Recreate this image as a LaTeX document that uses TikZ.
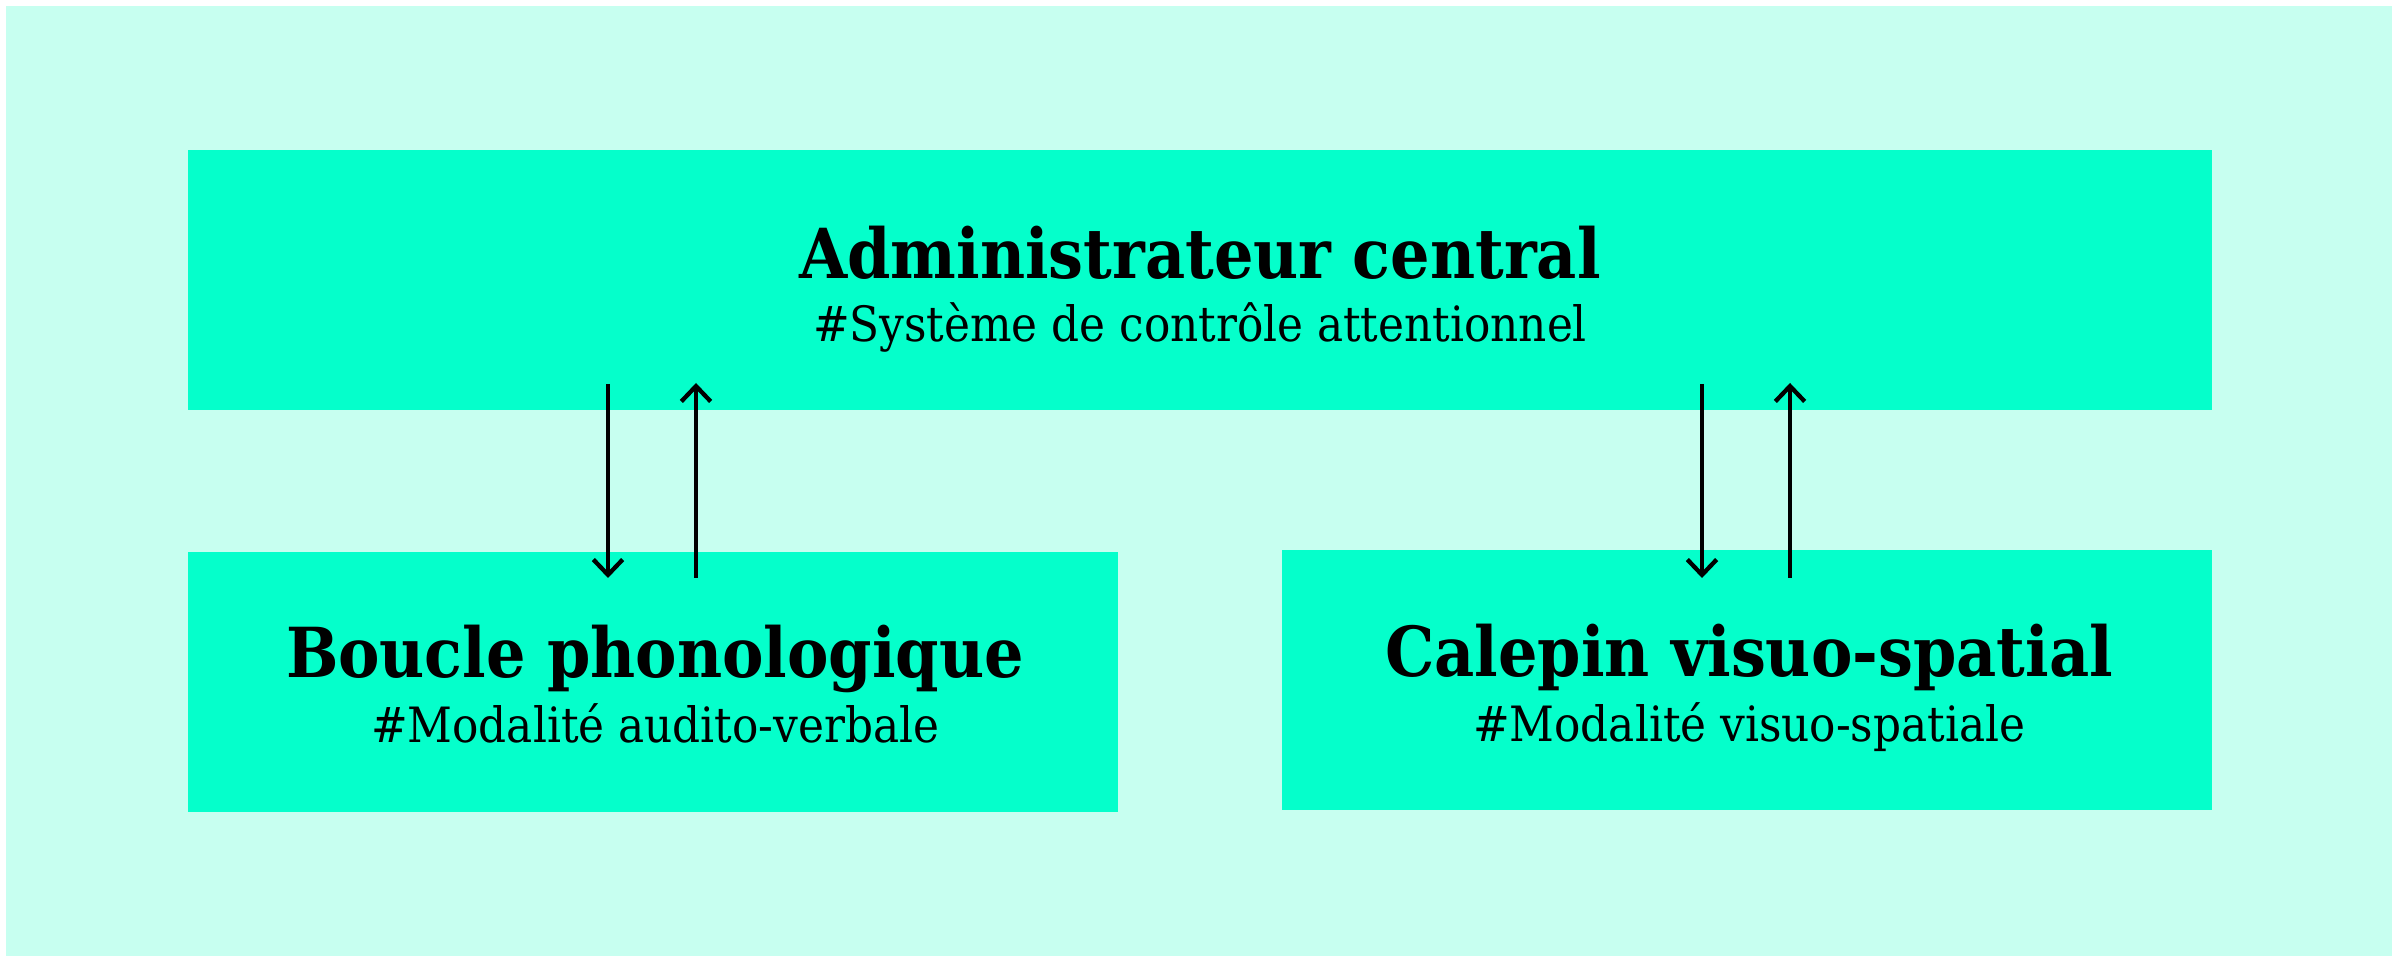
\documentclass[tikz,border=0pt]{standalone}
\usepackage{fontspec}
\usetikzlibrary{arrows.meta}
\newfontfamily\ttlfont{DejaVu Serif Condensed Bold}
\newfontfamily\subfont{DejaVu Serif Condensed}
\definecolor{bgmint}{RGB}{199,255,240}
\definecolor{boxmint}{RGB}{5,255,203}
\tikzset{
  box/.style={fill=boxmint, draw=none, inner sep=0pt},
  ttl/.style={anchor=base, inner sep=0pt, font=\ttlfont\fontsize{20.7}{24}\selectfont, text=black},
  sub/.style={anchor=base, inner sep=0pt, font=\subfont\fontsize{14.6}{17}\selectfont, text=black},
  link/.style={line width=1.3pt, -{Straight Barb[length=4.6pt,width=8.8pt]}}
}
\begin{document}
\begin{tikzpicture}[x=0.3pt, y=-0.3pt]
\useasboundingbox (0,0) rectangle (2398,962);
\fill[white] (0,0) rectangle (2398,962);
\fill[bgmint] (6,6) rectangle (2392,956);
\node[box, minimum width=2024*0.3pt, minimum height=260*0.3pt] (top) at (1200,280) {};
\node[box, minimum width=930*0.3pt, minimum height=260*0.3pt] (left) at (653,682) {};
\node[box, minimum width=930*0.3pt, minimum height=260*0.3pt] (right) at (1747,680) {};
\node[ttl] (toptitle) at (1200,279) {Administrateur central};
\node[sub] (topsub) at (1200,342) {\#Système de contrôle attentionnel};
\node[ttl] (lefttitle) at (655,678) {Boucle phonologique};
\node[sub] (leftsub) at (655,743) {\#Modalité audito-verbale};
\node[ttl] (righttitle) at (1749,677) {Calepin visuo-spatial};
\node[sub] (rightsub) at (1749,742) {\#Modalité visuo-spatiale};
\coordinate (a1s) at (608,384);
\coordinate (a1e) at (608,578);
\coordinate (a2s) at (696,578);
\coordinate (a2e) at (696,383);
\coordinate (a3s) at (1702,384);
\coordinate (a3e) at (1702,578);
\coordinate (a4s) at (1790,578);
\coordinate (a4e) at (1790,383);
\draw[link] (a1s) -- (a1e);
\draw[link] (a2s) -- (a2e);
\draw[link] (a3s) -- (a3e);
\draw[link] (a4s) -- (a4e);
\end{tikzpicture}
\end{document}
